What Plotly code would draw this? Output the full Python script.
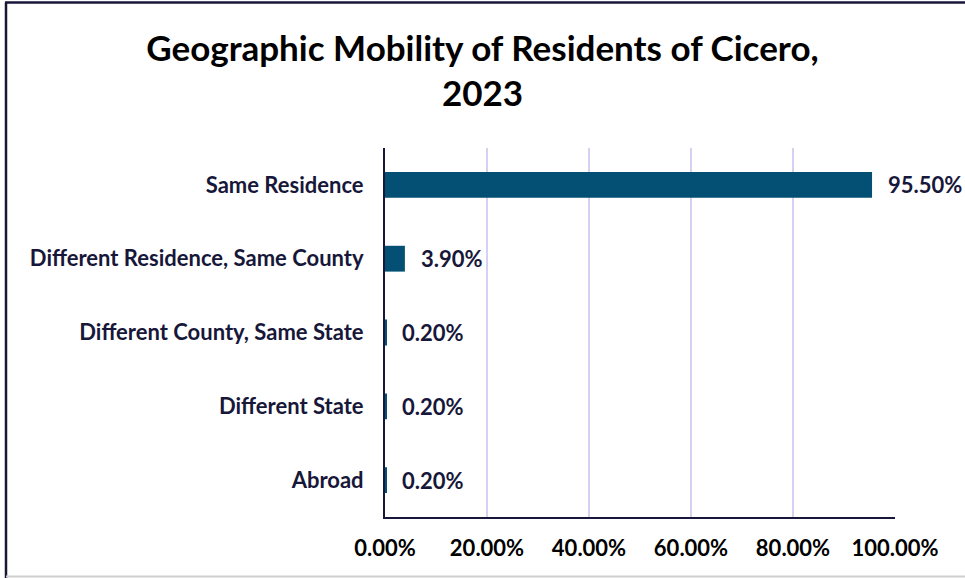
import plotly.graph_objects as go

# Geographic mobility categories (top to bottom) and their shares (%)
categories = [
    "Same Residence",
    "Different Residence, Same County",
    "Different County, Same State",
    "Different State",
    "Abroad",
]
shares = [95.5, 3.9, 0.2, 0.2, 0.2]
tick_values = [0, 20, 40, 60, 80, 100]
tick_labels = ["0.00%", "20.00%", "40.00%", "60.00%", "80.00%", "100.00%"]

BAR_COLOR = "#044F74"
TEXT_COLOR = "#17173A"
FONT = "Lato"

fig = go.Figure(
    go.Bar(
        x=shares,
        y=categories,
        orientation="h",
        marker=dict(color=BAR_COLOR, line=dict(width=0)),
        hoverinfo="skip",
    )
)

# value labels just past the end of each bar
for cat, val in zip(categories, shares):
    fig.add_annotation(
        x=val, y=cat, xref="x", yref="y",
        text=f"<b>{val:.2f}%</b>",
        showarrow=False,
        xanchor="left", yanchor="middle",
        xshift=14,
        font=dict(family=FONT, size=22, color=TEXT_COLOR),
    )

fig.update_layout(
    width=965,
    height=578,
    margin=dict(l=385, r=70, t=148, b=61),
    paper_bgcolor="white",
    plot_bgcolor="white",
    bargap=0.65,
    showlegend=False,
    font=dict(family=FONT, color=TEXT_COLOR),
    title=dict(
        text="<b>Geographic Mobility of Residents of Cicero,<br>2023</b>",
        x=0.5,
        xanchor="center",
        y=0.895,
        yanchor="middle",
        font=dict(family=FONT, size=35, color="black"),
    ),
    xaxis=dict(
        range=[0, 100],
        tickvals=tick_values,
        ticktext=tick_labels,
        tickfont=dict(family=FONT, size=22, color="black", weight="bold"),
        showgrid=True,
        gridcolor="#D4D2F2",
        gridwidth=2,
        zeroline=False,
        showline=True,
        linecolor=TEXT_COLOR,
        linewidth=2,
        ticks="",
        ticklabelstandoff=11,
        fixedrange=True,
    ),
    yaxis=dict(
        categoryorder="array",
        categoryarray=categories[::-1],
        tickfont=dict(family=FONT, size=22, color=TEXT_COLOR, weight="bold"),
        showline=True,
        linecolor=TEXT_COLOR,
        linewidth=2,
        ticks="",
        ticklabelstandoff=15,
        fixedrange=True,
    ),
    shapes=[
        # outer frame: dark left and top edges, light bottom edge
        dict(type="line", xref="paper", yref="paper",
             x0=-379 / 510, x1=-379 / 510, y0=-61 / 369, y1=1 + 145.5 / 369,
             line=dict(color="#17173A", width=2.5)),
        dict(type="line", xref="paper", yref="paper",
             x0=-380 / 510, x1=1 + 70 / 510, y0=1 + 145.5 / 369, y1=1 + 145.5 / 369,
             line=dict(color="#17173A", width=2.5)),
        dict(type="line", xref="paper", yref="paper",
             x0=-379 / 510, x1=1 + 70 / 510, y0=-59.5 / 369, y1=-59.5 / 369,
             line=dict(color="#D0D0D0", width=2)),
    ],
)

fig.write_html("out.html")
